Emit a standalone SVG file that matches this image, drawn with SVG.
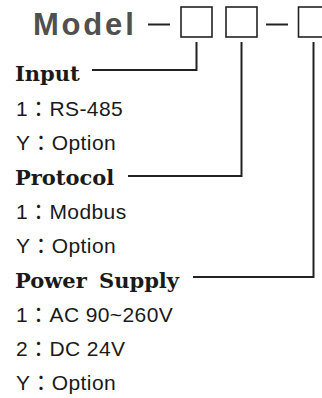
<svg xmlns="http://www.w3.org/2000/svg" width="322" height="398" viewBox="0 0 322 398">
<style>
.model{font-family:"Liberation Sans",Arial,sans-serif;font-weight:bold;font-size:31px;fill:#505050;letter-spacing:2.8px}
.head{font-family:"DejaVu Serif",serif;font-weight:bold;font-size:21px;fill:#1a1a1a}
.item{font-family:"Liberation Sans","Noto Sans CJK TC",sans-serif;font-size:21px;fill:#1a1a1a;letter-spacing:0.4px}
.box{fill:none;stroke:#222;stroke-width:1.6}
.dash{stroke:#222;stroke-width:2}
.conn{fill:none;stroke:#222;stroke-width:2}
</style>
<rect width="322" height="398" fill="#fff"/>
<g id="model">
<text class="model" x="33" y="35">Model</text>
<line class="dash" x1="148" y1="24.5" x2="170" y2="24.5"/>
<rect class="box" x="181" y="7" width="31" height="30"/>
<rect class="box" x="226" y="7" width="31" height="30"/>
<line class="dash" x1="266" y1="24.5" x2="288" y2="24.5"/>
<rect class="box" x="298.5" y="7" width="31" height="30"/>
</g>
<g id="connectors">
<polyline class="conn" points="196.5,42 196.5,70 92,70"/>
<polyline class="conn" points="241.5,42 241.5,176 128,176"/>
<polyline class="conn" points="313.5,42 313.5,277 193,277"/>
</g>
<g id="input">
<text class="head" x="15" y="81">Input</text>
<text class="item" x="16" y="115.5">1：RS-485</text>
<text class="item" x="16" y="150">Y：Option</text>
</g>
<g id="protocol">
<text class="head" x="15" y="184.5">Protocol</text>
<text class="item" x="16" y="218.5">1：Modbus</text>
<text class="item" x="16" y="253">Y：Option</text>
</g>
<g id="power">
<text class="head" x="15" y="287.5" word-spacing="5">Power Supply</text>
<text class="item" x="16" y="321.5">1：AC 90~260V</text>
<text class="item" x="16" y="356">2：DC 24V</text>
<text class="item" x="16" y="390">Y：Option</text>
</g>
</svg>
